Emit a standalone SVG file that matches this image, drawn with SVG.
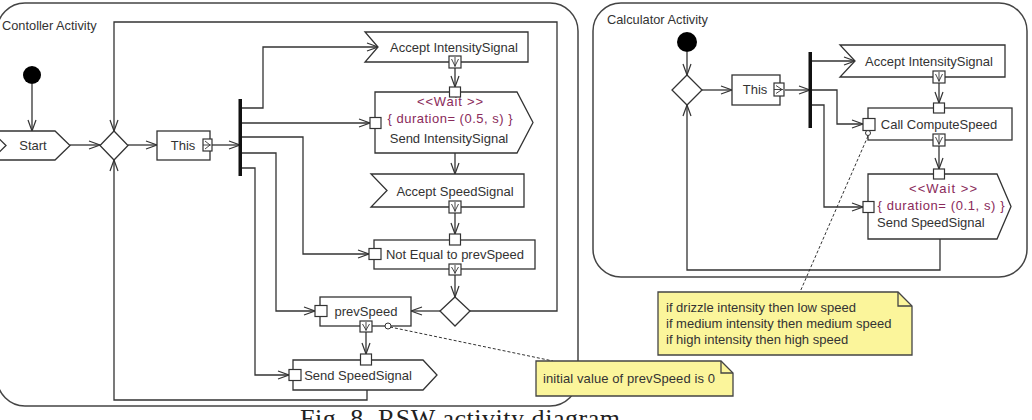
<svg xmlns="http://www.w3.org/2000/svg" width="1032" height="420" viewBox="0 0 1032 420">
<defs>
<marker id="ah" markerUnits="userSpaceOnUse" markerWidth="14" markerHeight="10" refX="12" refY="5" orient="auto">
<path d="M1,1 L12,5 L1,9" fill="none" stroke="#333" stroke-width="1.2"/>
</marker>
</defs>
<style>
text{font-family:"Liberation Sans",Arial,sans-serif;fill:#333;font-size:13px}
.t{font-size:12.8px}
.w{fill:#8a2a5a}
.c{text-anchor:middle}
.panel{fill:#fff;stroke:#444;stroke-width:1.5}
.n{fill:#fff;stroke:#333;stroke-width:1.3}
.pin{fill:#fff;stroke:#333;stroke-width:1.2}
.g{fill:none;stroke:#333;stroke-width:0.9}
.e{fill:none;stroke:#333;stroke-width:1.3;marker-end:url(#ah)}
.d{fill:none;stroke:#333;stroke-width:1;stroke-dasharray:3,2}
.note{fill:#fbf59b;stroke:#444;stroke-width:1.3}
.cap{font-family:"Liberation Serif","Times New Roman",serif;font-size:26px;fill:#222}
</style>
<rect width="1032" height="420" fill="#fff"/>
<g id="panels">
<rect class="panel" x="-3" y="3" width="581" height="403" rx="28"/>
<text class="t" x="2" y="30">Contoller Activity</text>
<rect class="panel" x="593" y="3" width="434" height="274" rx="28"/>
<text class="t" x="607" y="24">Calculator Activity</text>
</g>
<g id="connectors">
<path class="e" d="M32,84 L32,131"/>
<path class="e" d="M70,145 L100,145"/>
<path class="e" d="M128,145 L157,145"/>
<path class="e" d="M212,145 L240,145"/>
<path class="e" d="M240,108 L263,108 L263,47 L378,47"/>
<path class="e" d="M240,123 L370,123"/>
<path class="e" d="M240,137 L303,137 L303,254 L369,254"/>
<path class="e" d="M240,153 L276,153 L276,311 L315,311"/>
<path class="e" d="M240,168 L255,168 L255,375 L289,375"/>
<path class="e" d="M455,68 L455,87"/>
<path class="e" d="M455,153 L455,174"/>
<path class="e" d="M455,213 L455,234"/>
<path class="e" d="M455,275 L455,297"/>
<path class="e" d="M440,311 L411,311"/>
<path class="e" d="M470,311 L557,311 L557,22 L114,22 L114,131"/>
<path class="e" d="M366,332 L366,354"/>
<path class="e" d="M367,390 L367,400 L114,400 L114,160"/>
<path class="d" d="M390,327 L553,361"/>
<path class="e" d="M687,52 L687,75"/>
<path class="e" d="M702,90 L732,90"/>
<path class="e" d="M785,90 L810,90"/>
<path class="e" d="M810,61 L855,61"/>
<path class="e" d="M810,90 L837,90 L837,124 L863,124"/>
<path class="e" d="M810,105 L824,105 L824,207 L863,207"/>
<path class="e" d="M939,83 L939,103"/>
<path class="e" d="M939,146 L939,169"/>
<path class="e" d="M940,239 L940,270 L687,270 L687,105"/>
<path class="d" d="M868,136 L800,292"/>
</g>
<g id="ctrl-initial"><circle cx="32" cy="75" r="9" fill="#000"/></g>
<g id="ctrl-start">
<polygon class="n" points="-9,131 55,131 70,145.5 55,160 -9,160 6,145.5"/>
<text x="33" y="150" class="c">Start</text>
</g>
<g id="ctrl-merge"><polygon class="n" points="114,131 128,145.5 114,160 100,145.5"/></g>
<g id="ctrl-this">
<rect class="n" x="157" y="131" width="53" height="29"/>
<text x="183" y="150" class="c">This</text>
<rect class="pin" x="203" y="139" width="9" height="12"/>
<path class="g" d="M205,141 L210,145 L205,149 M203,145 L211,145"/>
</g>
<g id="ctrl-fork"><rect x="238.5" y="99" width="3.5" height="77" fill="#111"/></g>
<g id="ctrl-accept-intensity">
<polygon class="n" points="365,32 528,32 528,62 365,62 378,47"/>
<text x="454" y="52" class="c">Accept IntensitySignal</text>
<rect class="pin" x="449" y="56" width="12" height="12"/>
<path class="g" d="M451.5,59 L455,66 L458.5,59 M455,57 L455,67"/>
</g>
<g id="ctrl-send-intensity">
<polygon class="n" points="375,92 517,92 533,122.5 517,153 375,153"/>
<text x="450" y="106" class="c w" textLength="66">&lt;&lt;Wait &gt;&gt;</text>
<text x="450" y="123" class="c w" textLength="125">{ duration= (0.5, s) }</text>
<text x="449" y="143" class="c">Send IntensitySignal</text>
<rect class="pin" x="449.5" y="87" width="11" height="10"/>
<rect class="pin" x="370" y="117.5" width="11" height="11"/>
</g>
<g id="ctrl-accept-speed">
<polygon class="n" points="371,174 524,174 524,207 371,207 387,190.5"/>
<text x="455" y="196" class="c">Accept SpeedSignal</text>
<rect class="pin" x="449" y="201" width="12" height="12"/>
<path class="g" d="M451.5,204 L455,211 L458.5,204 M455,202 L455,212"/>
</g>
<g id="ctrl-not-equal">
<rect class="n" x="374" y="240" width="161" height="29"/>
<text x="455" y="259" class="c">Not Equal to prevSpeed</text>
<rect class="pin" x="449.5" y="234" width="11" height="11"/>
<rect class="pin" x="369" y="248.5" width="12" height="11"/>
<rect class="pin" x="449" y="264" width="12" height="11"/>
<path class="g" d="M451.5,267 L455,273 L458.5,267 M455,265 L455,274"/>
</g>
<g id="ctrl-decision"><polygon class="n" points="455,297 470,311 455,326 440,311"/></g>
<g id="ctrl-prevspeed">
<rect class="n" x="320" y="297" width="91" height="29"/>
<text x="366" y="316" class="c">prevSpeed</text>
<rect class="pin" x="315" y="305.5" width="12" height="11"/>
<rect class="pin" x="360" y="321" width="12" height="11"/>
<path class="g" d="M362.5,324 L366,330 L369.5,324 M366,322 L366,331"/>
<circle cx="388" cy="326" r="3" fill="#fff" stroke="#333" stroke-width="1"/>
</g>
<g id="ctrl-send-speed">
<polygon class="n" points="293,360 423,360 437,375 423,390 293,390"/>
<text x="358" y="380" class="c">Send SpeedSignal</text>
<rect class="pin" x="360.5" y="354" width="11" height="11"/>
<rect class="pin" x="289" y="369.5" width="12" height="11"/>
</g>
<g id="note-prevspeed">
<path class="note" d="M536,361 L721,361 L733,373 L733,396 L536,396 Z"/>
<path d="M721,361 L721,373 L733,373" fill="none" stroke="#444" stroke-width="1.3"/>
<text x="543" y="383" textLength="172">initial value of prevSpeed is 0</text>
</g>
<g id="calc-initial"><circle cx="687" cy="42" r="10" fill="#000"/></g>
<g id="calc-merge"><polygon class="n" points="687,75 702,90 687,105 672,90"/></g>
<g id="calc-this">
<rect class="n" x="732" y="75" width="48" height="30"/>
<text x="755" y="94" class="c">This</text>
<rect class="pin" x="774" y="83" width="10" height="13"/>
<path class="g" d="M776,85.5 L782,89.5 L776,93.5 M774,89.5 L783,89.5"/>
</g>
<g id="calc-fork"><rect x="808.5" y="52" width="3.5" height="76" fill="#111"/></g>
<g id="calc-accept-intensity">
<polygon class="n" points="840,45 1005,45 1005,77 840,77 855,61"/>
<text x="929" y="66" class="c">Accept IntensitySignal</text>
<rect class="pin" x="933" y="71" width="12" height="12"/>
<path class="g" d="M935.5,74 L939,81 L942.5,74 M939,72 L939,82"/>
</g>
<g id="calc-call">
<rect class="n" x="868" y="108" width="144" height="32"/>
<text x="939" y="129" class="c">Call ComputeSpeed</text>
<rect class="pin" x="933.5" y="103" width="11" height="10"/>
<rect class="pin" x="863" y="118.5" width="12" height="12"/>
<circle cx="868" cy="133" r="2.5" fill="#fff" stroke="#333" stroke-width="1"/>
<rect class="pin" x="933" y="134" width="12" height="12"/>
<path class="g" d="M935.5,137 L939,144 L942.5,137 M939,135 L939,145"/>
</g>
<g id="calc-send-speed">
<polygon class="n" points="868,174 997,174 1011,206.5 997,239 868,239"/>
<text x="943" y="193" class="c w" textLength="68">&lt;&lt;Wait &gt;&gt;</text>
<text x="941" y="210" class="c w" textLength="127">{ duration= (0.1, s) }</text>
<text x="877" y="227">Send SpeedSignal</text>
<rect class="pin" x="933.5" y="169" width="11" height="10"/>
<rect class="pin" x="863" y="201.5" width="11" height="11"/>
</g>
<g id="note-compute">
<path class="note" d="M658,292 L898,292 L912,306 L912,355 L658,355 Z"/>
<path d="M898,292 L898,306 L912,306" fill="none" stroke="#444" stroke-width="1.3"/>
<text x="666" y="312">if drizzle intensity then low speed</text>
<text x="666" y="328">if medium intensity then medium speed</text>
<text x="666" y="344">if high intensity then high speed</text>
</g>
<g id="caption">
<text class="cap" x="300" y="427" textLength="320">Fig. 8.  RSW activity diagram</text>
</g>
</svg>
